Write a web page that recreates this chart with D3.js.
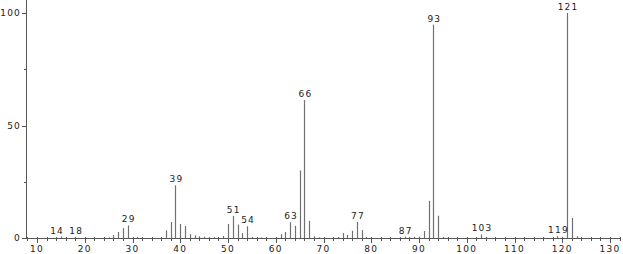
<!DOCTYPE html>
<html><head><meta charset="utf-8">
<script src="https://cdn.jsdelivr.net/npm/d3@7"></script>
<style>body{margin:0;background:#fff}svg{display:block}text{font-family:"DejaVu Sans",sans-serif;fill:#222}</style>
</head><body><svg id="c" width="623" height="254"></svg>
<script>
const mz =        [14, 15, 18, 25, 26, 27, 28, 29, 30, 31, 37, 38, 39, 40, 41, 42, 43, 44, 45, 46, 47, 49, 50, 51, 52, 53, 54, 55, 57, 60, 61, 62, 63, 64, 65, 66, 67, 68, 69, 73, 74, 75, 76, 77, 78, 79, 86, 87, 88, 89, 90, 91, 92, 93, 94, 95, 103, 104, 119, 120, 121, 122, 123, 124];
const intensity = [0.5,0.7,0.5,0.3,1.3,2.7,4.4,5.6,0.5,0.5,3.4,7.1,23.4,6.2,5.3,1.7,1.2,0.8,0.6,0.4,0.4,0.9,6.2,9.8,6.0,2.2,5.2,0.5,0.3,0.5,1.7,2.7,7.0,5.4,30.0,61.3,7.6,0.8,0.3,0.5,2.2,1.4,3.2,7.2,3.5,0.5,0.5,0.6,0.5,0.5,0.6,3.1,16.5,94.8,9.9,0.5,1.6,0.5,0.8,0.5,100,8.9,0.8,0.3];
const labeled = [14, 18, 29, 39, 51, 54, 63, 66, 77, 87, 93, 103, 119, 121];
const xTickLabels = [10, 20, 30, 40, 50, 60, 70, 80, 90, 100, 110, 120, 130];
const yTickLabels = [0, 50, 100];

const svg = d3.select("#c");
const x = d3.scaleLinear().domain([10, 130]).range([37, 610]);
const y = d3.scaleLinear().domain([0, 100]).range([238, 13]);
const axisColor = "#555";

// axes lines
svg.append("line").attr("x1", 26.5).attr("x2", 26.5).attr("y1", 0).attr("y2", 238.5).attr("stroke", axisColor);
svg.append("line").attr("x1", 26).attr("x2", 620).attr("y1", 238.5).attr("y2", 238.5).attr("stroke", axisColor);

// x ticks
const minor = d3.range(8, 133, 2);
svg.selectAll(".mt").data(minor).enter().append("line")
  .attr("x1", d => Math.round(x(d)) + 0.5).attr("x2", d => Math.round(x(d)) + 0.5)
  .attr("y1", 237).attr("y2", d => d % 10 === 0 ? 243 : 241)
  .attr("stroke", axisColor);
svg.selectAll(".xl").data(xTickLabels).enter().append("text")
  .attr("x", d => x(d)).attr("y", 252).attr("text-anchor", "middle")
  .attr("font-size", 9).attr("letter-spacing", 1.2).text(d => d);

// y ticks
svg.selectAll(".yt").data([0, 25, 50, 75, 100]).enter().append("line")
  .attr("x1", d => d % 50 === 0 ? 22 : 24).attr("x2", 27)
  .attr("y1", d => Math.round(y(d)) + 0.5).attr("y2", d => Math.round(y(d)) + 0.5)
  .attr("stroke", axisColor);
svg.selectAll(".yl").data(yTickLabels).enter().append("text")
  .attr("x", 21).attr("y", d => y(d) + 3).attr("text-anchor", "end")
  .attr("font-size", 9).attr("letter-spacing", 1.2).text(d => d);

// peaks
const peaks = mz.map((m, i) => ({m, v: intensity[i]}));
svg.selectAll(".pk").data(peaks).enter().append("line")
  .attr("x1", d => Math.round(x(d.m)) + 0.5).attr("x2", d => Math.round(x(d.m)) + 0.5)
  .attr("y1", 238).attr("y2", d => y(d.v))
  .attr("stroke", "#707070").attr("stroke-width", 1.2);

// labels
svg.selectAll(".pl").data(peaks.filter(d => labeled.includes(d.m))).enter().append("text")
  .attr("x", d => x(d.m) + 1).attr("y", d => y(d.v) - 3).attr("text-anchor", "middle")
  .attr("font-size", 9).attr("letter-spacing", 1.2).text(d => d.m);
</script></body></html>
